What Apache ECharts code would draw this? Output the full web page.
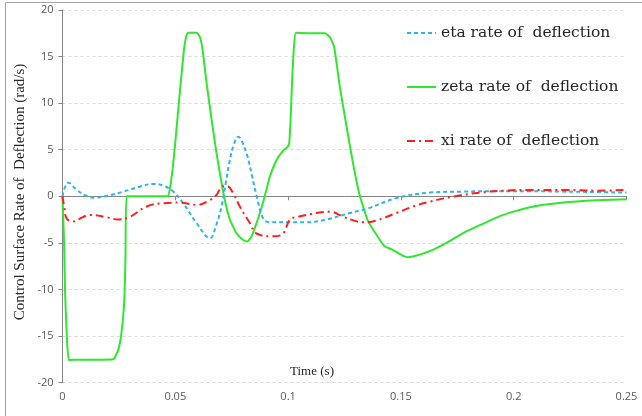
<!DOCTYPE html>
<html>
<head>
<meta charset="utf-8">
<script src="https://cdn.jsdelivr.net/npm/echarts@6/dist/echarts.min.js"></script>
<style>html,body{margin:0;padding:0;background:#fff;}#c{width:642px;height:416px;}</style>
</head>
<body>
<div id="c"></div>
<script>
// time (s), value (rad/s)
var etaData = [
  [0,0],[0.0026,1.46],[0.0063,0.68],[0.0107,0.03],[0.0144,-0.15],[0.0196,0.03],
  [0.027,0.5],[0.0343,1.03],[0.0402,1.32],[0.0447,1.14],[0.0491,0.5],[0.0535,-0.75],
  [0.0595,-2.9],[0.0654,-4.5],[0.068,-3.2],[0.0705,-1.1],[0.0725,1.6],[0.0742,3.9],
  [0.076,5.6],[0.0779,6.4],[0.0795,5.9],[0.0816,4.6],[0.084,2.2],[0.0861,0],
  [0.089,-2.4],[0.092,-2.8],[0.1008,-2.8],[0.1082,-2.8],[0.1171,-2.5],[0.1274,-1.8],
  [0.1355,-1.3],[0.148,-0.2],[0.1628,0.39],[0.1776,0.5],[0.1924,0.55],[0.2071,0.55],
  [0.2219,0.5],[0.2367,0.45],[0.25,0.39]
];
var zetaData = [
  [0,0],[0.0007,-5],[0.0011,-10],[0.0019,-15],[0.0028,-17.6],[0.005,-17.55],[0.015,-17.55],
  [0.0225,-17.5],[0.0247,-16.5],[0.0259,-15.1],[0.0269,-12.9],[0.0274,-11.1],[0.0279,-7],[0.0284,0],
  [0.0465,0],[0.0469,0],[0.0484,2.1],[0.0498,5.3],[0.0513,9.3],[0.0528,13.2],
  [0.054,16.05],[0.055,17.3],[0.0557,17.55],[0.0595,17.55],[0.0609,17.1],[0.0621,15.7],
  [0.0639,12.1],[0.0661,8.2],[0.0683,4.6],[0.0716,0],[0.0742,-2.5],[0.0772,-4.0],
  [0.0801,-4.7],[0.0819,-4.87],[0.0838,-4.3],[0.086,-2.9],[0.089,-0.6],[0.0919,2.1],
  [0.0949,3.9],[0.0978,4.9],[0.0996,5.25],[0.1005,5.7],[0.1011,8.2],[0.1018,12.5],
  [0.1026,16.05],[0.1035,17.55],[0.1097,17.5],[0.1163,17.5],[0.1185,17.1],[0.1204,16.05],
  [0.1229,11.8],[0.1259,7.5],[0.1288,3.5],[0.1318,0.05],[0.1355,-2.7],[0.1407,-4.7],
  [0.1429,-5.4],[0.1459,-5.7],[0.1488,-6.1],[0.151,-6.4],[0.1532,-6.55],[0.1569,-6.37],
  [0.1628,-5.9],[0.1702,-5.0],[0.1776,-3.95],[0.185,-3.1],[0.1953,-2.0],[0.2071,-1.18],
  [0.2219,-0.68],[0.2367,-0.43],[0.25,-0.32]
];
var xiData = [
  [0,0],[0.0008,-1.2],[0.0019,-2.4],[0.0048,-2.7],[0.0085,-2.3],[0.0122,-2.0],
  [0.0196,-2.25],[0.0247,-2.5],[0.0299,-2.2],[0.0373,-1.1],[0.0447,-0.75],[0.052,-0.68],
  [0.0595,-0.93],[0.0654,-0.4],[0.0683,0.14],[0.0705,1.0],[0.0728,1.1],[0.0757,0.3],
  [0.0786,-1.1],[0.0831,-2.9],[0.086,-4.0],[0.0934,-4.3],[0.0978,-4.0],[0.1008,-2.5],
  [0.1045,-2.2],[0.1126,-1.8],[0.1185,-1.65],[0.1244,-2.2],[0.1304,-2.7],[0.1333,-2.8],
  [0.1392,-2.6],[0.148,-1.8],[0.1554,-1.1],[0.1628,-0.58],[0.1747,0.03],[0.185,0.39],
  [0.1953,0.6],[0.2071,0.68],[0.2219,0.68],[0.2367,0.6],[0.25,0.68]
];
var seriesNames = ['eta rate of  deflection', 'zeta rate of  deflection', 'xi rate of  deflection'];
var xTicks = [0, 0.05, 0.1, 0.15, 0.2, 0.25];
var yTicks = [-20, -15, -10, -5, 0, 5, 10, 15, 20];
var xTitle = 'Time (s)';
var yTitle = 'Control Surface Rate of  Deflection (rad/s)';

var chart = echarts.init(document.getElementById('c'), null, {renderer: 'canvas'});
var labelFont = {color: '#595959', fontSize: 11, fontFamily: 'Open Sans'};
chart.setOption({
  animation: false,
  backgroundColor: '#fff',
  grid: {left: 62.5, right: 15.5, top: 10, bottom: 33.5, containLabel: false},
  legend: {
    orient: 'vertical', left: 406, top: 25, padding: 0, itemWidth: 29, itemHeight: 12, itemGap: 38,
    itemStyle: {opacity: 0},
    textStyle: {fontFamily: 'DejaVu Serif', fontSize: 15.5, color: '#262626'},
    data: seriesNames
  },
  graphic: [
    {type: 'rect', silent: true, z: -1, shape: {x: 5.5, y: 2.5, width: 700, height: 500},
     style: {fill: 'none', stroke: '#a6a6a6', lineWidth: 1}},
    {type: 'text', x: 312, y: 372, style: {text: xTitle, fontFamily: 'Liberation Serif', fontSize: 13,
     fill: '#262626', textAlign: 'center', textVerticalAlign: 'middle'}},
    {type: 'text', x: 20, y: 192, rotation: Math.PI / 2, style: {text: yTitle, fontFamily: 'Liberation Serif', fontSize: 15,
     fill: '#262626', textAlign: 'center', textVerticalAlign: 'middle'}}
  ],
  xAxis: {
    type: 'value', min: xTicks[0], max: xTicks[xTicks.length-1], interval: 0.05,
    axisLine: {onZero: true, lineStyle: {color: '#868686', width: 1}},
    axisTick: {show: true, length: 4, lineStyle: {color: '#868686'}},
    axisLabel: Object.assign({margin: 9}, labelFont),
    splitLine: {show: false}
  },
  yAxis: {
    type: 'value', min: yTicks[0], max: yTicks[yTicks.length-1], interval: 5,
    axisLine: {show: true, lineStyle: {color: '#868686', width: 1}},
    axisTick: {show: true, length: 4, lineStyle: {color: '#868686'}},
    axisLabel: Object.assign({margin: 9}, labelFont),
    splitLine: {show: true, lineStyle: {color: '#d9d9d9', type: [3, 3], width: 1}}
  },
  series: [
    {name: seriesNames[0], type: 'line', data: etaData, symbol: 'none', smooth: 0.4,
     color: '#2fb4ea', lineStyle: {color: '#2fb4ea', width: 2, type: [4, 3]}, z: 3},
    {name: seriesNames[1], type: 'line', data: zetaData, symbol: 'none', smooth: 0.15,
     color: '#2ee82e', lineStyle: {color: '#2ee82e', width: 2, type: 'solid'}, z: 2},
    {name: seriesNames[2], type: 'line', data: xiData, symbol: 'none', smooth: 0.4,
     color: '#ff1f1f', lineStyle: {color: '#ff1f1f', width: 2, type: [8, 4, 2, 4]}, z: 4}
  ]
});
</script>
</body>
</html>
